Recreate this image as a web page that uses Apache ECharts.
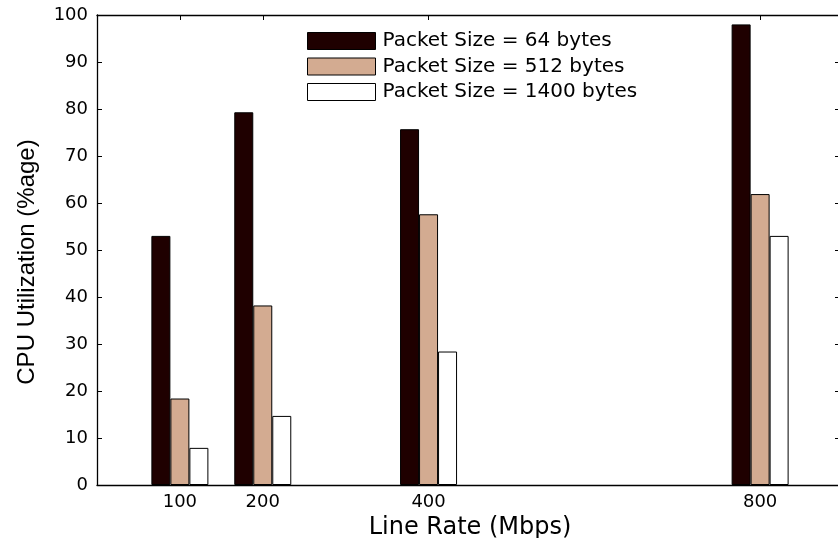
<!DOCTYPE html>
<html>
<head>
<meta charset="utf-8">
<script src="https://cdn.jsdelivr.net/npm/echarts@6/dist/echarts.min.js"></script>
<style>
html,body{margin:0;padding:0;background:#fff;}
#chart{width:838px;height:538px;}
</style>
</head>
<body>
<div id="chart"></div>
<script>
var lineRates = [100, 200, 400, 800];
var seriesNames = ['Packet Size = 64 bytes', 'Packet Size = 512 bytes', 'Packet Size = 1400 bytes'];
var cpu64 = [53.0, 79.3, 75.7, 98.0];
var cpu512 = [18.4, 38.2, 57.6, 61.9];
var cpu1400 = [7.9, 14.7, 28.4, 53.0];
var yTicks = [0, 10, 20, 30, 40, 50, 60, 70, 80, 90, 100];

var colors = ['#1f0000', '#d3ab91', '#ffffff'];
var allValues = [cpu64, cpu512, cpu1400];

function pairs(vals) {
  return lineRates.map(function (x, i) { return [x, vals[i]]; });
}

var chart = echarts.init(document.getElementById('chart'));
var series = seriesNames.map(function (name, i) {
  return {
    name: name,
    type: 'bar',
    xAxisIndex: 0,
    yAxisIndex: 0,
    barWidth: 19,
    barGap: '0%',
    data: pairs(allValues[i]),
    itemStyle: { color: colors[i], borderColor: '#000', borderWidth: 1 },
    emphasis: { disabled: true }
  };
});

var option = {
  animation: false,
  backgroundColor: '#ffffff',
  grid: { left: 97, top: 15, right: -5, bottom: 53, containLabel: false, outerBoundsMode: 'none' },
  legend: {
    orient: 'vertical',
    left: 302,
    top: 26,
    icon: 'rect',
    itemWidth: 68,
    itemHeight: 17,
    itemGap: 5.5,
    textStyle: { fontFamily: 'DejaVu Sans', fontSize: 20, color: '#000', lineHeight: 17, padding: [0, 0, 0, 2] },
    data: seriesNames.map(function (n, i) {
      return { name: n, icon: 'rect', itemStyle: { color: colors[i], borderColor: '#000', borderWidth: 1 } };
    })
  },
  xAxis: [
    {
      type: 'value',
      position: 'bottom',
      min: 0,
      max: 900,
      name: 'Line Rate (Mbps)',
      nameLocation: 'middle',
      nameGap: 24,
      nameTextStyle: { fontFamily: 'DejaVu Sans', fontSize: 24, color: '#000' },
      splitLine: { show: false },
      axisLine: { show: true, onZero: false, lineStyle: { color: '#000', width: 1.3 } },
      axisTick: { show: true, inside: true, length: 5, customValues: lineRates, lineStyle: { color: '#000' } },
      axisLabel: { customValues: lineRates, fontFamily: 'DejaVu Sans', fontSize: 18, color: '#000', margin: 8 }
    },
    {
      type: 'value',
      position: 'top',
      min: 0,
      max: 900,
      splitLine: { show: false },
      axisLine: { show: true, onZero: false, lineStyle: { color: '#000', width: 1.3 } },
      axisTick: { show: true, inside: true, length: 5, customValues: lineRates, lineStyle: { color: '#000' } },
      axisLabel: { show: false }
    }
  ],
  yAxis: [
    {
      type: 'value',
      position: 'left',
      min: 0,
      max: 100,
      interval: 10,
      name: 'CPU Utilization (%age)',
      nameLocation: 'middle',
      nameGap: 58,
      nameRotate: 90,
      nameTextStyle: { fontFamily: 'Liberation Sans', fontSize: 24, color: '#000', padding: [0, 24, 0, 0] },
      splitLine: { show: false },
      axisLine: { show: true, onZero: false, lineStyle: { color: '#000', width: 1.3 } },
      axisTick: { show: true, inside: true, length: 5, customValues: yTicks, lineStyle: { color: '#000' } },
      axisLabel: { customValues: yTicks, fontFamily: 'DejaVu Sans', fontSize: 18, color: '#000', margin: 9 }
    },
    {
      type: 'value',
      position: 'right',
      min: 0,
      max: 100,
      interval: 10,
      splitLine: { show: false },
      axisLine: { show: true, onZero: false, lineStyle: { color: '#000', width: 1.3 } },
      axisTick: { show: true, inside: true, length: 8, customValues: yTicks, lineStyle: { color: '#000' } },
      axisLabel: { show: false }
    }
  ],
  series: series
};
chart.setOption(option);
</script>
</body>
</html>
